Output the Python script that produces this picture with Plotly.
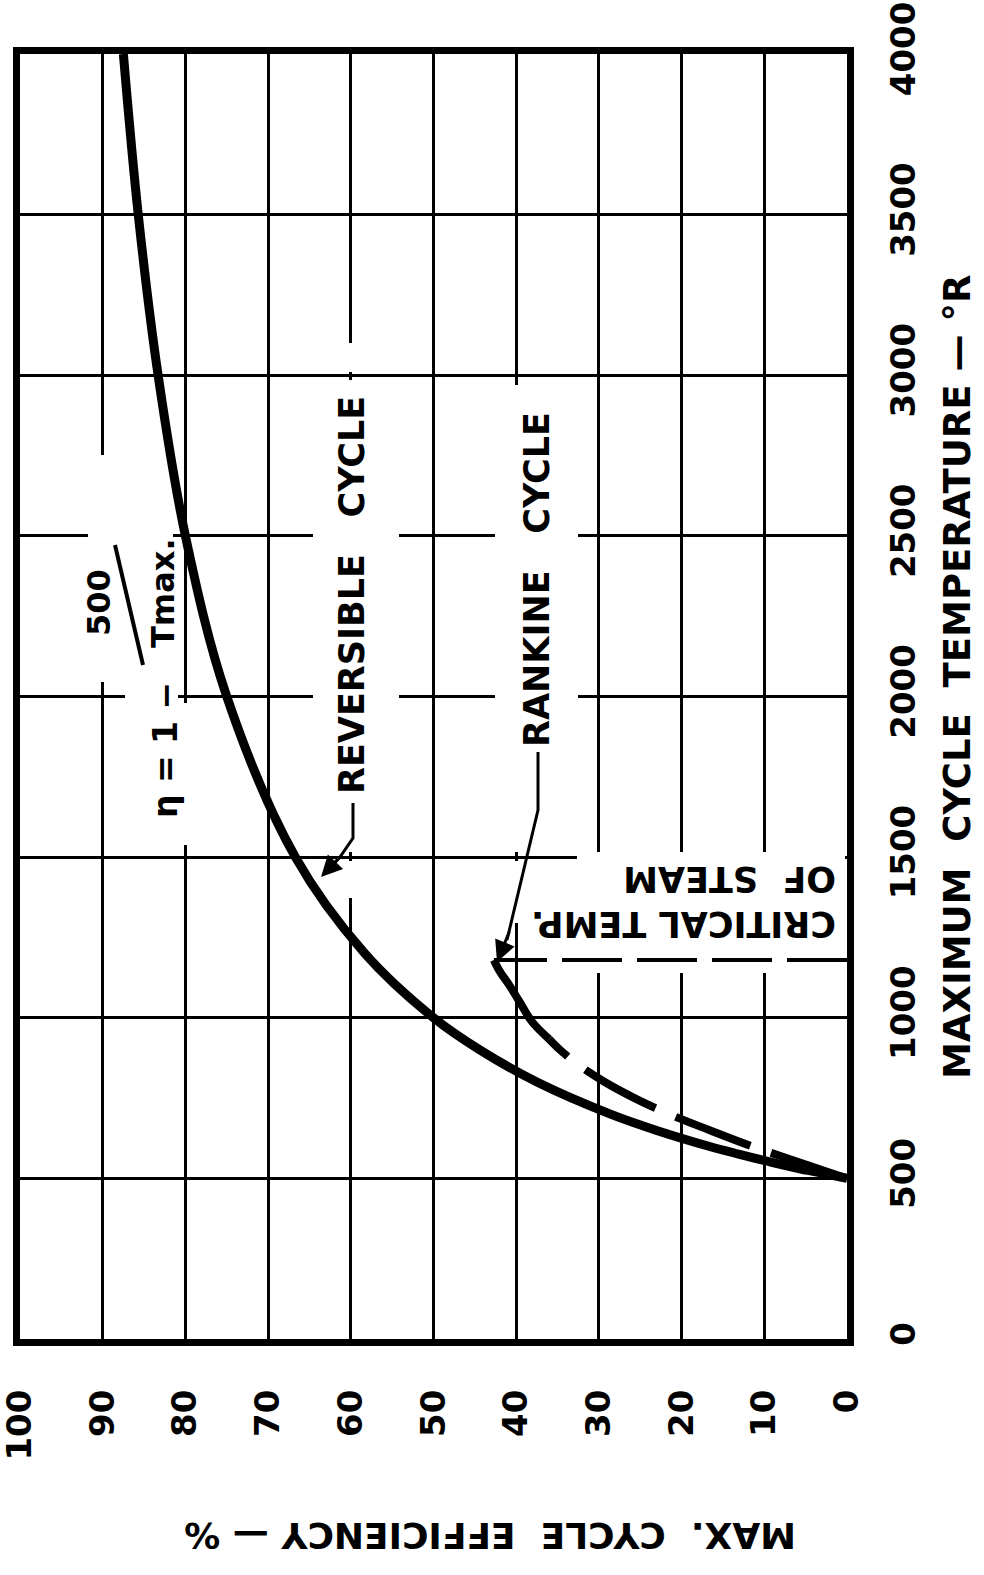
import plotly.graph_objects as go

# ---------------- data ----------------
eff_ticks = [0, 10, 20, 30, 40, 50, 60, 70, 80, 90, 100]
eff_labels = [str(v) for v in eff_ticks]
temp_ticks = [0, 500, 1000, 1500, 2000, 2500, 3000, 3500, 4000]
temp_labels = [str(v) for v in temp_ticks]

# reversible cycle  (eta = 1 - 500/Tmax)
rev_T = [500, 510, 520, 530, 550, 575, 600, 650, 700, 800, 900, 1000, 1200,
         1500, 2000, 2500, 3000, 3500, 4000]
rev_eta = [0, 2.0, 3.8, 5.7, 9.1, 13.0, 16.7, 23.1, 28.6, 37.5, 44.4, 50.0,
           58.3, 66.7, 75.0, 80.0, 83.3, 85.7, 87.5]

# Rankine cycle, dashed part (low temperatures)
rank_dash_T = [500, 550, 600, 650, 700, 750, 800, 850, 900, 933]
rank_dash_eta = [0, 5.8, 11.5, 16.6, 21.5, 25.7, 29.3, 32.3, 34.7, 36.0]
# Rankine cycle, solid part up to the critical temperature
rank_solid_T = [933, 988, 1050, 1100, 1145, 1180]
rank_solid_eta = [36.0, 38.1, 39.6, 40.8, 42.0, 42.7]

# critical temperature of steam
crit_T = 1180
crit_eta_span = [0, 42.7]

# ---------------- layout geometry ----------------
W, H = 984, 1575
L, R, T, B = 20, 847, 54, 1339   # plot area in pixels
ETA_MAX, T_MAX = 100, 4000


def P(x, y):
    """pixel -> paper coordinates"""
    return (x - L) / (R - L), (B - y) / (B - T)


def D(x, y):
    """pixel -> data coordinates (efficiency, temperature)"""
    a, b = P(x, y)
    return ETA_MAX * (1 - a), T_MAX * b


FONT = "DejaVu Sans"
BOLD = dict(family=FONT, color="black", weight="bold")

fig = go.Figure()

fig.add_trace(go.Scatter(x=rev_eta, y=rev_T, mode="lines",
                         line=dict(color="black", width=9, shape="spline"),
                         hoverinfo="skip"))
fig.add_trace(go.Scatter(x=rank_dash_eta, y=rank_dash_T, mode="lines",
                         line=dict(color="black", width=8, shape="spline",
                                   dash="80px,22px"),
                         hoverinfo="skip"))
fig.add_trace(go.Scatter(x=rank_solid_eta, y=rank_solid_T, mode="lines",
                         line=dict(color="black", width=8, shape="spline"),
                         hoverinfo="skip"))
fig.add_trace(go.Scatter(x=crit_eta_span, y=[crit_T, crit_T], mode="lines",
                         line=dict(color="black", width=4, dash="60px,15px"),
                         hoverinfo="skip"))

shapes = []

# white patches that interrupt the grid behind the lettering
def gap(x0, y0, x1, y1):
    a0, b0 = D(x0, y1)
    a1, b1 = D(x1, y0)
    shapes.append(dict(type="rect", xref="x", yref="y",
                       x0=a0, y0=b0, x1=a1, y1=b1,
                       fillcolor="white", line=dict(width=0), layer="between"))

gap(313, 380, 399, 852)   # REVERSIBLE CYCLE
gap(345, 343, 357, 372)
gap(345, 861, 357, 898)
gap(495, 385, 578, 852)   # RANKINE CYCLE
gap(511, 861, 522, 923)
gap(577, 852, 845, 973)   # CRITICAL TEMP.
gap(88, 455, 173, 682)    # formula
gap(180, 703, 191, 845)
gap(125, 690, 178, 702)


def path(points):
    s = ""
    for i, (x, y) in enumerate(points):
        a, b = P(x, y)
        s += ("M" if i == 0 else "L") + f"{a:.5f},{b:.5f} "
    return s.strip()


# leader lines
shapes.append(dict(type="path", xref="paper", yref="paper",
                   path=path([(353, 803), (353, 838), (340, 857), (326, 872)]),
                   line=dict(color="black", width=3)))
shapes.append(dict(type="path", xref="paper", yref="paper",
                   path=path([(538, 752), (538, 810), (507, 940)]),
                   line=dict(color="black", width=3)))
# fraction bar of the formula
a0, b0 = P(115, 545)
a1, b1 = P(143, 665)
shapes.append(dict(type="line", xref="paper", yref="paper",
                   x0=a0, y0=b0, x1=a1, y1=b1,
                   line=dict(color="black", width=4)))

annotations = []


def text(x, y, s, size, angle=-90, bold=True, align="center"):
    a, b = P(x, y)
    f = dict(BOLD) if bold else dict(family=FONT, color="black")
    f["size"] = size
    annotations.append(dict(xref="paper", yref="paper", x=a, y=b, text=s,
                            showarrow=False, textangle=angle, font=f,
                            xanchor="center", yanchor="middle", align=align))


NB = "\u00a0"
text(352, 595, f"REVERSIBLE{NB*3}CYCLE", 35)
text(537, 580, f"RANKINE{NB*3}CYCLE", 35)
text(684, 901, f"CRITICAL{NB}TEMP.<br>OF{NB*2}STEAM", 35, angle=180, align="left")

# formula  eta = 1 - 500 / Tmax.
text(165, 750, f"η{NB}={NB}1{NB}−", 33)
text(99, 603, "500", 32)
text(163, 593, "Tmax.", 32)

# axis titles
text(957, 677, f"MAXIMUM{NB*2}CYCLE{NB*2}TEMPERATURE{NB}—{NB}°R", 37)
text(490, 1535, f"MAX.{NB*2}CYCLE{NB*2}EFFICIENCY{NB}—{NB}%", 36, angle=180)


# arrowheads
def arrow(x, y, fx, fy):
    a, b = P(x, y)
    annotations.append(dict(xref="paper", yref="paper", x=a, y=b, text="",
                            showarrow=True, ax=fx - x, ay=fy - y,
                            arrowhead=2, arrowsize=1.4, arrowwidth=3,
                            arrowcolor="black", standoff=0))


arrow(321, 877, 340, 857)
arrow(497, 962, 510, 930)

axis_common = dict(showgrid=True, gridcolor="black", gridwidth=3,
                   showline=True, linecolor="black", linewidth=7, mirror=True,
                   zeroline=False, ticks="", tickangle=-90, automargin=False,
                   ticklabeloverflow="allow",
                   tickfont=dict(family=FONT, size=34, color="black", weight="bold"))

fig.update_layout(
    width=W, height=H,
    margin=dict(l=L, r=W - R, t=T, b=H - B, autoexpand=False),
    paper_bgcolor="white", plot_bgcolor="white",
    showlegend=False,
    xaxis=dict(range=[ETA_MAX, 0], tickvals=eff_ticks, ticktext=eff_labels,
               ticklabelstandoff=30, **axis_common),
    yaxis=dict(range=[0, T_MAX], tickvals=temp_ticks, ticktext=temp_labels,
               side="right", ticklabelstandoff=20, **axis_common),
    shapes=shapes,
    annotations=annotations,
)

fig.write_html("out.html",
               config={"displayModeBar": False},
               post_script="document.body.style.margin='0px';"
                           "document.body.style.padding='0px';")
